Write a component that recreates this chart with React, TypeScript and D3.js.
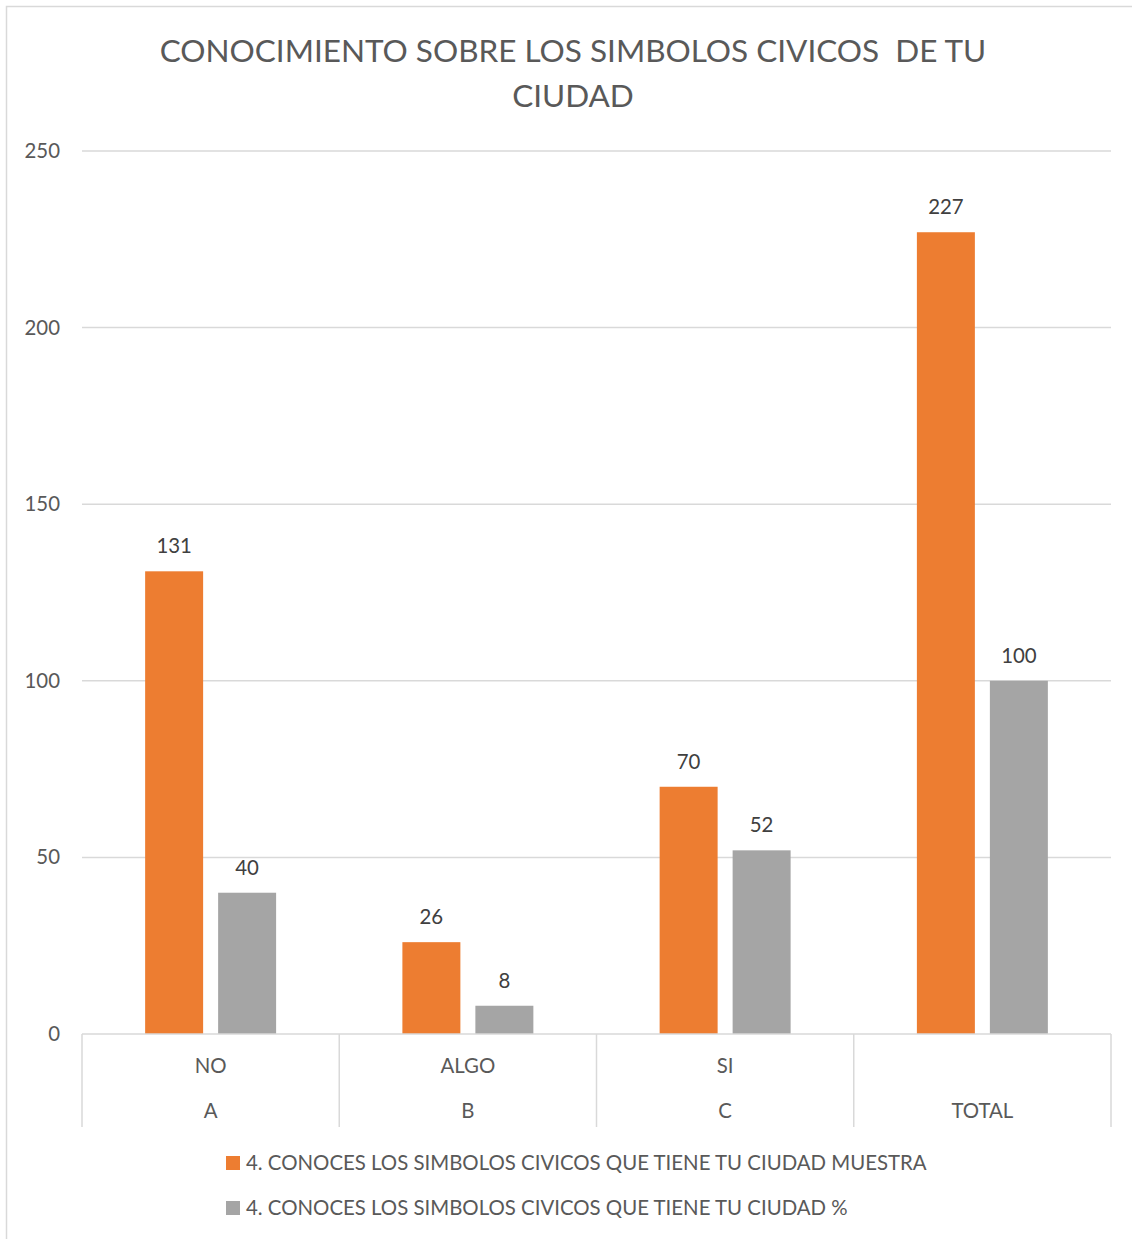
import React, { useEffect, useRef } from 'react';
import * as d3 from 'd3';

const categories: string[] = ['A', 'B', 'C', 'TOTAL'];
const subLabels: string[] = ['NO', 'ALGO', 'SI', ''];
const muestra: number[] = [131, 26, 70, 227];
const porcentaje: number[] = [40, 8, 52, 100];
const seriesNames: string[] = [
  '4. CONOCES LOS SIMBOLOS CIVICOS QUE TIENE TU CIUDAD MUESTRA',
  '4. CONOCES LOS SIMBOLOS CIVICOS QUE TIENE TU CIUDAD %',
];
const yTicks: number[] = [0, 50, 100, 150, 200, 250];

const width: number = 1132;
const height: number = 1239;
const font: string = 'Lato, "Open Sans", sans-serif';
const textColor: string = '#595959';
const colors: string[] = ['#ED7D31', '#A5A5A5'];

const App = () => {
  const ref = useRef<SVGSVGElement>(null);

  useEffect(() => {
    const svg: any = d3.select(ref.current);
    svg.selectAll('*').remove();

    // chart frame (right and bottom edges fall outside the picture)
    svg.append('rect')
      .attr('x', 6.5).attr('y', 6.5)
      .attr('width', width + 20).attr('height', height + 20)
      .attr('fill', '#fff').attr('stroke', '#d9d9d9').attr('stroke-width', 1.5);

    const left = 82, right = 1111, top = 151, bottom = 1034;

    const yScale: any = d3.scaleLinear().domain([0, 250]).range([bottom, top]);
    const xScale: any = d3.scaleBand().domain(categories).range([left, right]);
    const inner: any = d3.scaleBand().domain(['0', '1'])
      .range([0, xScale.bandwidth()]).paddingInner(0.2055).paddingOuter(0.865);

    // title
    const title = svg.append('text')
      .attr('text-anchor', 'middle').attr('font-family', font)
      .attr('font-size', 31.5).attr('fill', textColor);
    title.append('tspan').attr('x', 573).attr('y', 62).text('CONOCIMIENTO SOBRE LOS SIMBOLOS CIVICOS  DE TU').attr('xml:space', 'preserve');
    title.append('tspan').attr('x', 573).attr('y', 107).text('CIUDAD');

    // gridlines + y labels
    svg.selectAll('.grid').data(yTicks.filter(t => t > 0)).enter().append('line')
      .attr('x1', left).attr('x2', right)
      .attr('y1', (d: number) => yScale(d)).attr('y2', (d: number) => yScale(d))
      .attr('stroke', '#d9d9d9').attr('stroke-width', 1.5);

    svg.selectAll('.ylab').data(yTicks).enter().append('text')
      .attr('x', 60).attr('y', (d: number) => yScale(d) + 7)
      .attr('text-anchor', 'end').attr('font-family', font).attr('font-size', 20.4)
      .attr('fill', textColor).text((d: number) => d);

    // bars
    const series = [muestra, porcentaje];
    series.forEach((vals, si) => {
      svg.selectAll(`.bar${si}`).data(vals).enter().append('rect')
        .attr('x', (d: number, i: number) => xScale(categories[i]) + inner(String(si)))
        .attr('y', (d: number) => yScale(d))
        .attr('width', inner.bandwidth())
        .attr('height', (d: number) => bottom - yScale(d))
        .attr('fill', colors[si]);

      svg.selectAll(`.lab${si}`).data(vals).enter().append('text')
        .attr('x', (d: number, i: number) => xScale(categories[i]) + inner(String(si)) + inner.bandwidth() / 2)
        .attr('y', (d: number) => yScale(d) - 18)
        .attr('text-anchor', 'middle').attr('font-family', font).attr('font-size', 20.4)
        .attr('fill', '#404040').text((d: number) => d);
    });

    // x axis with two label rows
    svg.append('line')
      .attr('x1', left).attr('x2', right).attr('y1', bottom).attr('y2', bottom)
      .attr('stroke', '#d9d9d9').attr('stroke-width', 1.5);
    const edges = categories.map(c => xScale(c)).concat([right]);
    svg.selectAll('.tick').data(edges).enter().append('line')
      .attr('x1', (d: number) => d).attr('x2', (d: number) => d)
      .attr('y1', bottom).attr('y2', 1127)
      .attr('stroke', '#d9d9d9').attr('stroke-width', 1.5);

    svg.selectAll('.sub').data(subLabels).enter().append('text')
      .attr('x', (d: string, i: number) => xScale(categories[i]) + xScale.bandwidth() / 2)
      .attr('y', 1073).attr('text-anchor', 'middle').attr('font-family', font)
      .attr('font-size', 20.4).attr('fill', textColor).text((d: string) => d);
    svg.selectAll('.cat').data(categories).enter().append('text')
      .attr('x', (d: string) => xScale(d) + xScale.bandwidth() / 2)
      .attr('y', 1118).attr('text-anchor', 'middle').attr('font-family', font)
      .attr('font-size', 20.4).attr('fill', textColor).text((d: string) => d);

    // legend
    seriesNames.forEach((name, i) => {
      const ly = 1163 + i * 45;
      svg.append('rect').attr('x', 226).attr('y', ly - 7).attr('width', 14).attr('height', 14)
        .attr('fill', colors[i]);
      svg.append('text').attr('x', 246).attr('y', ly + 7)
        .attr('font-family', font).attr('font-size', 20.4).attr('fill', textColor).text(name);
    });
  }, []);

  return (
    <svg ref={ref} width={width} height={height}
      style={{ display: 'block', position: 'absolute', left: 0, top: 0 }} />
  );
};

export default App;
